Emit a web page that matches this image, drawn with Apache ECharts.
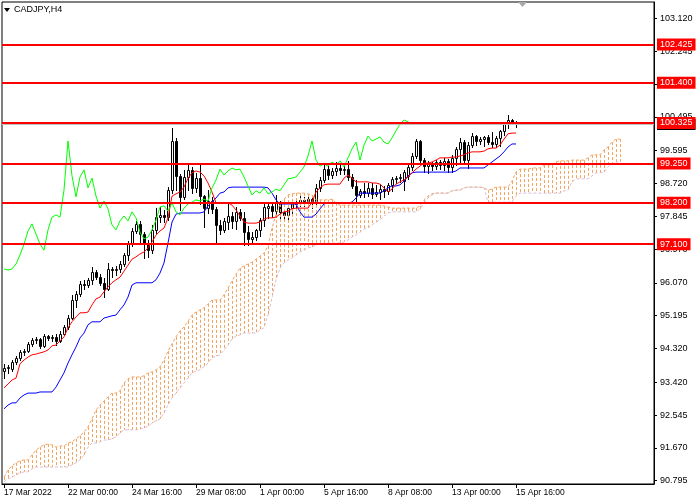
<!DOCTYPE html>
<html><head><meta charset="utf-8">
<script src="https://cdn.jsdelivr.net/npm/echarts@6/dist/echarts.min.js"></script>
<style>html,body{margin:0;padding:0;background:#fff;}#c{width:700px;height:500px;}</style>
</head><body><div id="c"></div>
<script>
const symbolTitle = 'CADJPY,H4';
const tickLabels = ['17 Mar 2022','22 Mar 00:00','24 Mar 16:00','29 Mar 08:00','1 Apr 00:00','5 Apr 16:00','8 Apr 08:00','13 Apr 00:00','15 Apr 16:00'];
const barsPerLabel = 16;
const yTicks = [90.795,91.670,92.545,93.420,94.320,95.195,96.070,96.970,97.845,98.720,99.595,100.495,101.370,102.245,103.120];
const levels = [102.425,101.400,100.325,99.250,98.200,97.100];
const levelLabels = ['102.425','101.400','100.325','99.250','98.200','97.100'];
const slotCount = 163;
const chikouShift = 26;

const opens = [93.72,93.80,93.77,93.96,94.07,94.23,94.25,94.44,94.55,94.57,
94.39,94.65,94.60,94.63,94.52,94.71,94.89,95.13,95.61,95.77,
96.04,96.01,96.15,96.36,96.22,96.07,95.91,96.44,96.41,96.44,
96.57,96.81,97.10,97.45,97.64,97.37,97.10,96.94,97.48,97.82,
97.88,97.82,98.54,99.85,98.92,98.36,98.89,99.08,98.60,98.86,
98.38,98.06,98.25,98.04,97.61,97.48,97.69,97.85,97.72,97.96,
97.80,97.42,97.24,97.29,97.48,97.74,98.06,98.12,97.98,98.20,
97.96,97.88,98.06,98.17,98.22,98.28,98.25,98.30,98.25,98.60,
98.81,99.10,98.94,99.05,99.13,99.08,99.10,98.89,98.65,98.41,
98.52,98.46,98.60,98.44,98.49,98.57,98.52,98.68,98.84,98.86,
98.78,98.92,99.16,99.45,99.85,99.34,99.18,99.24,99.18,99.29,
99.21,99.32,99.16,99.40,99.64,99.82,99.34,99.74,99.98,99.85,
99.90,99.96,99.82,99.77,99.93,100.12,100.30,100.41,100.36];
const closes = [93.80,93.83,93.96,94.07,94.23,94.25,94.44,94.55,94.57,94.39,
94.65,94.60,94.63,94.52,94.71,94.89,95.13,95.61,95.77,96.04,
96.01,96.15,96.36,96.22,96.07,95.91,96.44,96.41,96.44,96.57,
96.81,97.10,97.45,97.64,97.37,97.10,96.94,97.48,97.82,97.88,
97.82,98.54,99.85,98.92,98.36,98.89,99.08,98.60,98.86,98.38,
98.06,98.25,98.04,97.61,97.48,97.72,97.85,97.72,97.96,97.80,
97.42,97.24,97.29,97.48,97.74,98.09,98.12,97.98,98.20,97.96,
97.88,98.06,98.17,98.22,98.28,98.25,98.30,98.25,98.60,98.81,
99.10,98.94,99.05,99.13,99.08,99.10,98.89,98.65,98.41,98.52,
98.46,98.60,98.44,98.49,98.57,98.52,98.68,98.84,98.86,98.89,
99.02,99.16,99.45,99.85,99.34,99.18,99.24,99.18,99.29,99.21,
99.32,99.16,99.40,99.64,99.82,99.34,99.74,99.98,99.85,99.90,
99.96,99.82,99.77,99.93,100.12,100.30,100.41,100.36,100.29];
const highs = [93.91,93.88,94.01,94.12,94.28,94.31,94.49,94.60,94.63,94.60,
94.71,94.68,94.68,94.71,94.79,94.95,95.21,95.75,95.85,96.12,
96.15,96.20,96.49,96.41,96.30,96.20,96.60,96.49,96.52,96.65,
96.86,97.18,97.53,97.72,97.72,97.42,97.21,97.61,98.06,98.09,
98.01,98.62,100.20,99.93,98.97,99.08,99.26,99.16,99.00,99.26,
98.41,98.54,98.36,98.09,97.74,97.80,98.20,97.96,98.09,98.04,
97.96,97.58,97.42,97.50,97.80,98.17,98.20,98.17,98.41,98.25,
98.01,98.12,98.22,98.28,98.41,98.36,98.36,98.38,98.70,98.89,
99.21,99.18,99.13,99.29,99.21,99.18,99.32,98.97,98.81,98.57,
98.73,98.73,98.73,98.68,98.70,98.65,98.73,98.89,98.92,98.97,
99.08,99.24,99.53,99.90,99.88,99.40,99.32,99.29,99.34,99.34,
99.40,99.37,99.48,99.69,99.93,99.88,99.82,100.06,100.01,99.96,
99.98,100.01,100.09,99.98,100.14,100.36,100.54,100.44,100.38];
const lows = [93.53,93.67,93.72,93.91,94.01,94.15,94.23,94.39,94.47,94.33,
94.36,94.55,94.52,94.41,94.49,94.68,94.84,95.11,95.43,95.72,
95.91,95.96,96.04,96.17,96.01,95.69,95.88,96.22,96.28,96.36,
96.52,96.68,97.05,97.40,97.13,96.73,96.76,96.86,97.40,97.69,
97.69,97.74,98.46,98.54,98.01,98.30,98.54,98.46,98.49,98.17,
97.56,97.93,97.93,97.13,97.37,97.42,97.50,97.53,97.50,97.74,
97.08,97.08,97.10,97.21,97.32,97.58,97.80,97.82,97.82,97.77,
97.72,97.74,97.88,98.06,98.12,98.12,98.14,98.06,98.12,98.52,
98.76,98.84,98.86,98.94,98.97,98.97,98.81,98.60,98.22,98.36,
98.36,98.38,98.33,98.38,98.30,98.36,98.44,98.52,98.73,98.76,
98.54,98.84,99.08,99.40,99.29,99.02,99.00,99.08,99.10,99.10,
99.08,99.02,99.02,99.21,99.29,99.29,99.13,99.69,99.74,99.77,
99.72,99.77,99.69,99.69,99.72,100.01,100.20,100.30,100.22];

const tenkan = [93.27,93.37,93.48,93.53,93.91,94.01,94.09,94.15,94.17,94.20,
94.23,94.28,94.39,94.41,94.52,94.63,94.87,95.03,95.16,95.27,
95.27,95.29,95.48,95.64,95.69,95.83,95.96,96.07,96.15,96.22,
96.38,96.54,96.70,96.76,96.84,96.89,97.00,97.16,97.34,97.45,
97.53,97.80,98.38,98.44,98.49,98.62,98.86,99.00,99.05,99.02,
98.92,98.73,98.49,98.20,98.20,98.20,98.20,98.14,98.01,97.85,
97.69,97.66,97.66,97.66,97.69,97.77,97.80,97.80,97.82,97.90,
97.96,97.98,98.04,98.06,98.06,98.06,98.06,98.22,98.49,98.60,
98.68,98.70,98.70,98.70,98.70,98.86,98.94,98.86,98.76,98.76,
98.76,98.76,98.73,98.73,98.70,98.60,98.49,98.57,98.70,98.76,
98.81,98.89,99.00,99.10,99.18,99.26,99.26,99.29,99.34,99.40,
99.40,99.40,99.42,99.42,99.45,99.48,99.53,99.56,99.56,99.56,
99.58,99.64,99.66,99.66,99.74,99.90,100.04,100.06,100.06];
const kijun = [92.71,92.81,92.87,92.87,93.00,93.08,93.13,93.13,93.13,93.16,
93.16,93.16,93.16,93.29,93.48,93.67,93.93,94.15,94.36,94.60,
94.73,94.95,95.03,95.03,95.03,95.13,95.16,95.19,95.21,95.35,
95.48,95.69,96.01,96.07,96.07,96.07,96.07,96.07,96.15,96.33,
96.60,97.13,97.69,97.90,97.93,97.93,97.93,97.93,97.93,97.93,
97.96,98.12,98.22,98.33,98.46,98.49,98.60,98.62,98.62,98.62,
98.62,98.62,98.62,98.62,98.62,98.62,98.60,98.46,98.28,98.17,
98.17,98.17,98.17,98.17,97.96,97.82,97.82,97.82,97.90,98.04,
98.17,98.20,98.20,98.20,98.20,98.20,98.20,98.22,98.33,98.46,
98.46,98.46,98.46,98.46,98.46,98.52,98.60,98.65,98.65,98.68,
98.78,98.92,99.00,99.02,99.02,99.02,99.02,99.02,99.02,99.02,
99.02,99.02,99.02,99.05,99.13,99.13,99.13,99.13,99.13,99.13,
99.13,99.21,99.29,99.37,99.45,99.56,99.69,99.77,99.77];
const spanA = [90.89,91.08,91.19,91.27,91.32,91.35,91.35,91.48,91.61,91.69,
91.75,91.77,91.75,91.69,91.72,91.72,91.80,91.83,91.91,91.99,
92.09,92.23,92.44,92.68,92.81,92.92,93.03,93.13,93.13,93.19,
93.40,93.51,93.56,93.56,93.56,93.59,93.67,93.69,93.75,93.83,
94.01,94.25,94.44,94.63,94.79,94.89,95.05,95.21,95.29,95.35,
95.40,95.51,95.61,95.61,95.61,95.75,95.93,96.12,96.30,96.46,
96.52,96.57,96.62,96.70,96.78,96.86,97.05,97.53,97.88,98.17,
98.30,98.41,98.44,98.46,98.46,98.46,98.44,98.41,98.28,98.28,
98.28,98.28,98.30,98.20,98.14,98.14,98.14,98.14,98.14,98.14,
98.14,98.14,98.14,98.14,98.14,98.12,98.09,98.06,98.06,98.06,
98.06,98.06,98.06,98.06,98.12,98.28,98.38,98.44,98.46,98.46,
98.46,98.46,98.52,98.54,98.54,98.60,98.62,98.62,98.62,98.62,
98.60,98.54,98.57,98.62,98.62,98.62,98.62,98.78,99.02,99.10,
99.10,99.10,99.13,99.13,99.13,99.21,99.21,99.21,99.29,99.32,
99.32,99.32,99.34,99.34,99.34,99.34,99.40,99.48,99.48,99.48,
99.61,99.69,99.82,99.90,99.90];
const spanB = [90.76,90.84,90.89,90.95,91.00,91.03,91.03,91.11,91.16,91.16,
91.16,91.16,91.16,91.16,91.16,91.16,91.16,91.22,91.27,91.35,
91.48,91.69,91.80,91.80,91.83,91.88,91.88,91.91,91.96,92.07,
92.15,92.15,92.15,92.15,92.17,92.20,92.25,92.33,92.39,92.44,
92.60,92.81,93.00,93.13,93.27,93.40,93.53,93.67,93.72,93.75,
93.83,93.93,94.07,94.12,94.15,94.28,94.41,94.57,94.65,94.68,
94.73,94.73,94.73,94.73,94.81,94.87,95.21,95.67,96.15,96.46,
96.60,96.68,96.73,96.81,96.89,96.94,97.00,97.02,97.08,97.10,
97.13,97.13,97.13,97.13,97.13,97.16,97.21,97.29,97.34,97.42,
97.50,97.53,97.61,97.69,97.74,97.85,97.93,97.96,97.96,97.96,
97.96,97.96,97.96,97.96,98.04,98.20,98.33,98.41,98.46,98.46,
98.46,98.46,98.52,98.54,98.54,98.60,98.62,98.62,98.62,98.62,
98.60,98.22,98.22,98.22,98.22,98.22,98.22,98.22,98.38,98.46,
98.46,98.46,98.46,98.46,98.46,98.46,98.46,98.46,98.46,98.46,
98.52,98.54,98.76,98.84,98.84,98.84,98.84,98.92,99.00,99.00,
99.02,99.16,99.24,99.29,99.29];

const categories = Array.from({length: slotCount}, (_, i) => String(i));
const candleData = opens.map((o, i) => [i, o, closes[i], lows[i], highs[i]]);
const chikou = categories.map((_, i) => (i + chikouShift < closes.length ? closes[i + chikouShift] : null));
const cloudData = spanA.map((a, i) => [i, a, spanB[i]]);
const bid = closes[closes.length - 1];
const FONT = '"Liberation Sans", Arial, sans-serif';
const crisp = (v) => Math.round(v) + 0.5;

const chart = echarts.init(document.getElementById('c'), null, {renderer: 'canvas'});
chart.setOption({
  animation: false,
  backgroundColor: '#ffffff',
  grid: {left: 2, top: 2, width: 652, height: 482, show: true, borderColor: '#000', borderWidth: 1, backgroundColor: 'transparent', containLabel: false},
  xAxis: {
    type: 'category', data: categories, boundaryGap: true,
    axisLine: {show: true, lineStyle: {color: '#000', width: 1}},
    axisTick: {show: true, alignWithLabel: true, length: 4, lineStyle: {color: '#000'},
      interval: (idx) => idx % barsPerLabel === 0 && idx / barsPerLabel < tickLabels.length},
    axisLabel: {
      interval: (idx) => idx % barsPerLabel === 0 && idx / barsPerLabel < tickLabels.length,
      formatter: (v, idx) => tickLabels[idx / barsPerLabel] || '',
      align: 'left', color: '#000', fontSize: 8.5, fontFamily: FONT, margin: 4
    },
    splitLine: {show: false}
  },
  yAxis: {
    type: 'value', position: 'right', min: 90.707, max: 103.554,
    axisLine: {show: true, lineStyle: {color: '#000', width: 1}},
    axisTick: {show: true, customValues: yTicks, length: 3, lineStyle: {color: '#000'}},
    axisLabel: {customValues: yTicks, formatter: (v) => v.toFixed(3), color: '#000', fontSize: 9, fontFamily: FONT, margin: 6},
    splitLine: {show: false}
  },
  graphic: [
    {type: 'polygon', shape: {points: [[4, 8], [10, 8], [7, 12]]}, style: {fill: '#000'}, z: 100},
    {type: 'text', x: 14, y: 5, style: {text: symbolTitle, fontSize: 9, fontFamily: FONT, fill: '#000'}, z: 100},
    {type: 'polygon', shape: {points: [[518, 2], [527, 2], [522.5, 7]]}, style: {fill: '#a9a9a9'}, z: 100}
  ],
  series: [
    {
      type: 'custom', name: 'price', data: candleData, z: 1, silent: true,
      encode: {x: 0, y: [1, 2, 3, 4]},
      renderItem: (params, api) => {
        const i = api.value(0), o = api.value(1), c = api.value(2), l = api.value(3), h = api.value(4);
        const pO = api.coord([i, o]), pC = api.coord([i, c]), pL = api.coord([i, l]), pH = api.coord([i, h]);
        const cx = Math.round(pO[0]);
        const bull = c >= o;
        const yTop = crisp(Math.min(pO[1], pC[1]));
        let yBot = crisp(Math.max(pO[1], pC[1]));
        if (yBot - yTop < 1) yBot = yTop + 1;
        return {type: 'group', children: [
          {type: 'line', shape: {x1: cx + 0.5, y1: Math.round(pH[1]), x2: cx + 0.5, y2: Math.round(pL[1]) + 1}, style: {stroke: '#000', lineWidth: 1}},
          {type: 'rect', shape: {x: cx - 0.5, y: yTop, width: 2, height: yBot - yTop}, style: {fill: bull ? '#fff' : '#000', stroke: '#000', lineWidth: 1}}
        ]};
      },
      markLine: {
        silent: true, symbol: ['none', 'none'],
        lineStyle: {color: '#c0c0c0', width: 1, type: 'solid'},
        label: {show: true, position: 'end', distance: 3, formatter: () => bid.toFixed(3), color: '#fff', backgroundColor: '#000', padding: [1, 3, 1, 3], fontSize: 9, fontFamily: FONT},
        data: [{yAxis: bid}]
      }
    },
    {
      type: 'custom', name: 'cloud', data: cloudData, z: 2, silent: true,
      encode: {x: 0, y: [1, 2]},
      renderItem: (params, api) => {
        const i = api.value(0), a = api.value(1), b = api.value(2);
        const p1 = api.coord([i, a]), p2 = api.coord([i, b]);
        const x = Math.round(p1[0]) + 0.5;
        return {type: 'line', shape: {x1: x, y1: p1[1], x2: x, y2: p2[1]},
          style: {stroke: a >= b ? '#F4A460' : '#D8BFD8', lineWidth: 1, lineDash: [3, 2]}};
      }
    },
    {type: 'line', name: 'spanA', data: spanA, showSymbol: false, z: 3, silent: true, lineStyle: {color: '#F4A460', width: 1, type: [3, 2]}},
    {type: 'line', name: 'spanB', data: spanB, showSymbol: false, z: 3, silent: true, lineStyle: {color: '#D8BFD8', width: 1, type: [3, 2]}},
    {type: 'line', name: 'kijun', data: kijun, showSymbol: false, z: 4, silent: true, lineStyle: {color: '#0000FF', width: 1}},
    {type: 'line', name: 'tenkan', data: tenkan, showSymbol: false, z: 4, silent: true, lineStyle: {color: '#FF0000', width: 1}},
    {type: 'line', name: 'chikou', data: chikou, showSymbol: false, z: 4, silent: true, connectNulls: false, lineStyle: {color: '#00FF00', width: 1}},
    {
      type: 'line', name: 'levels', data: [], z: 6,
      markLine: {
        silent: true, symbol: ['none', 'none'],
        lineStyle: {color: '#FF0000', width: 2, type: 'solid'},
        label: {show: true, position: 'end', distance: 3, formatter: (p) => levelLabels[p.dataIndex], color: '#fff', backgroundColor: '#FF0000', padding: [2, 3, 1, 3], fontSize: 9, fontFamily: FONT},
        data: levels.map((v) => ({yAxis: v}))
      }
    }
  ]
});
</script></body></html>
